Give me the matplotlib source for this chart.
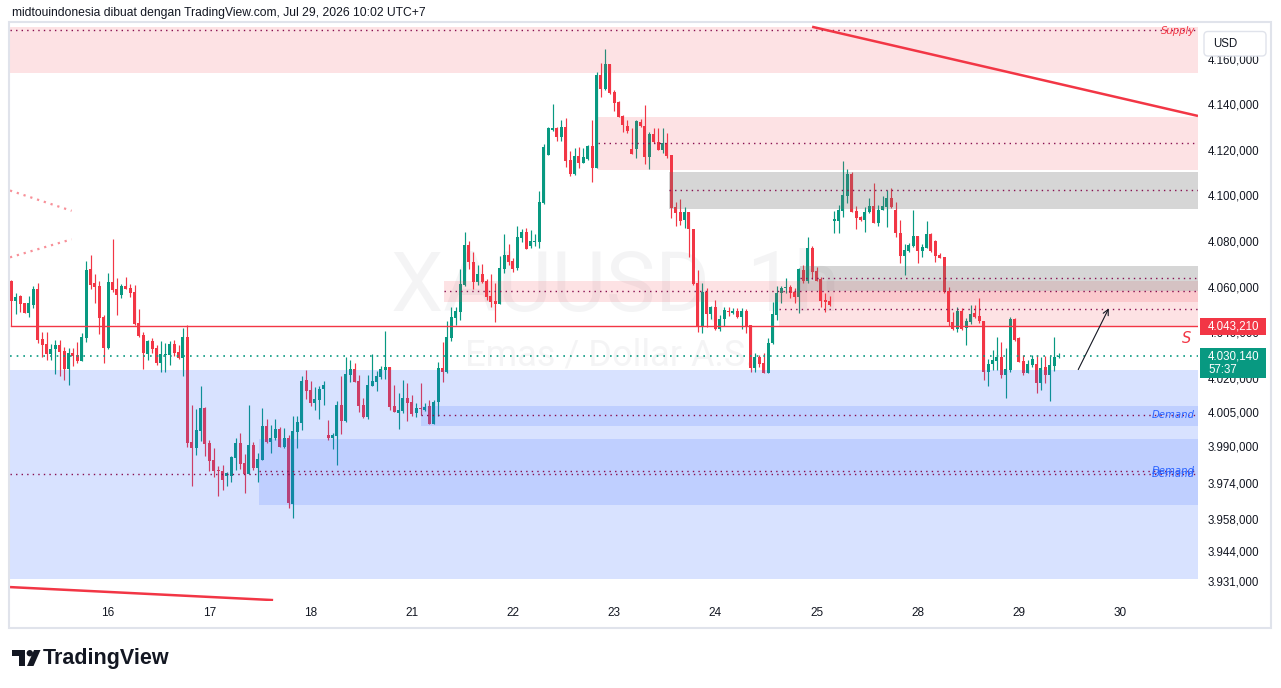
import matplotlib
matplotlib.use("Agg")
import matplotlib.pyplot as plt
import matplotlib.transforms as mtransforms
from matplotlib.patches import Rectangle, FancyBboxPatch, Circle, Polygon
import numpy as np

# ---------------- data ----------------
opens = [4063.1, 4054.5, 4056.4, 4053.3, 4049.2, 4052.6, 4059.6, 4037.7, 4035.5, 4031.3,
         4033.5, 4035.1, 4032.4, 4024.5, 4031.6, 4030.7, 4028.2, 4038.3, 4068.4, 4062.3,
         4060.9, 4047.3, 4033.9, 4062.7, 4059.6, 4057.1, 4060.9, 4060.1, 4058.3, 4044.7,
         4039.5, 4031.3, 4036.8, 4033.8, 4027.3, 4030.7, 4030.8, 4035.5, 4032.0, 4029.5,
         4038.6, 3992.5, 3990.0, 3997.5, 4007.6, 3992.1, 3984.6, 3980.2, 3979.7, 3977.8,
         3977.8, 3985.6, 3992.1, 3983.3, 3978.6, 3991.2, 3981.3, 3984.8, 3999.5, 3992.4,
         3994.1, 3998.2, 3990.5, 3994.1, 3965.5, 3997.0, 4001.0, 4019.7, 4015.3, 4009.8,
         4010.9, 4015.6, 3995.6, 3994.4, 3995.3, 4008.7, 4001.7, 4021.9, 4024.5, 4019.3,
         4008.7, 4003.6, 4017.2, 4019.0, 4021.2, 4024.1, 4025.4, 4008.3, 4005.4, 4006.3,
         4011.7, 4010.1, 4005.4, 4007.4, 4006.5, 4008.3, 4000.4, 4010.0, 4024.8, 4023.4,
         4038.3, 4047.0, 4049.7, 4061.4, 4078.9, 4071.5, 4062.7, 4066.2, 4063.1, 4056.6,
         4054.4, 4053.2, 4068.5, 4074.5, 4071.8, 4068.7, 4082.0, 4084.6, 4078.6, 4080.2,
         4080.3, 4097.2, 4118.4, 4129.3, 4130.3, 4126.4, 4130.5, 4116.2, 4110.0, 4117.9,
         4114.7, 4116.6, 4122.3, 4112.8, 4153.4, 4147.5, 4158.3, 4146.1, 4141.6, 4135.5,
         4131.1, 4121.1, 4121.1, 4133.0, 4131.2, 4117.6, 4127.4, 4124.2, 4120.6, 4123.5,
         4118.4, 4095.7, 4093.4, 4089.8, 4093.5, 4085.9, 4062.1, 4043.4, 4058.4, 4048.6,
         4051.8, 4041.9, 4046.3, 4050.1, 4048.9, 4050.1, 4047.5, 4050.1, 4043.8, 4024.8,
         4029.9, 4027.0, 4022.9, 4035.8, 4048.2, 4057.7, 4059.9, 4060.3, 4058.4, 4056.2,
         4068.0, 4063.3, 4077.5, 4067.5, 4063.9, 4054.8, 4054.4, 4089.6, 4089.6, 4094.0,
         4100.6, 4110.1, 4093.9, 4091.1, 4089.9, 4093.3, 4096.0, 4088.7, 4094.3, 4095.7,
         4099.4, 4094.3, 4084.1, 4074.1, 4076.3, 4078.5, 4082.9, 4076.3, 4077.8, 4083.8,
         4080.7, 4074.5, 4073.8, 4058.8, 4045.3, 4042.1, 4050.0, 4042.4, 4045.0, 4049.0,
         4047.8, 4045.6, 4023.4, 4026.6, 4028.1, 4030.0, 4021.9, 4024.1, 4046.5, 4038.0,
         4028.1, 4022.9, 4026.3, 4026.7, 4018.3, 4025.3, 4021.9, 4026.0, 4029.9]
highs = [4063.6, 4057.9, 4057.0, 4053.5, 4056.6, 4060.9, 4062.1, 4040.6, 4040.6, 4035.5,
         4037.3, 4037.3, 4034.3, 4033.8, 4033.8, 4036.2, 4040.5, 4071.9, 4074.5, 4066.1,
         4063.1, 4048.2, 4066.6, 4081.6, 4064.3, 4062.0, 4064.9, 4062.0, 4061.4, 4050.9,
         4040.6, 4037.4, 4038.0, 4035.1, 4036.8, 4035.9, 4036.8, 4037.3, 4034.9, 4042.5,
         4043.8, 4008.8, 4007.0, 4016.9, 4008.0, 3993.4, 3990.0, 3982.1, 3982.4, 3979.5,
         3986.5, 3994.4, 3996.5, 3987.4, 4008.8, 3992.7, 3987.6, 4007.4, 4002.6, 4000.0,
         4002.6, 3999.2, 3998.5, 3995.6, 4003.9, 4004.1, 4021.5, 4024.1, 4019.3, 4016.8,
         4017.1, 4019.3, 4002.2, 3996.3, 4010.5, 4021.6, 4029.6, 4028.5, 4027.3, 4021.9,
         4012.0, 4021.9, 4031.1, 4023.8, 4026.0, 4041.2, 4025.4, 4017.5, 4014.2, 4019.7,
         4018.2, 4013.1, 4009.5, 4018.4, 4009.5, 4010.9, 4010.9, 4027.5, 4036.2, 4045.7,
         4051.7, 4051.9, 4068.4, 4084.5, 4080.7, 4076.0, 4070.0, 4070.6, 4064.0, 4066.2,
         4062.1, 4074.1, 4083.7, 4079.4, 4073.1, 4087.3, 4086.1, 4086.5, 4085.5, 4083.6,
         4102.6, 4123.0, 4130.8, 4140.7, 4130.8, 4133.7, 4134.4, 4120.3, 4121.6, 4122.0,
         4121.3, 4122.7, 4133.7, 4154.6, 4158.6, 4164.9, 4158.3, 4146.9, 4142.0, 4135.9,
         4133.7, 4130.1, 4133.7, 4134.1, 4140.3, 4128.6, 4130.1, 4130.1, 4130.1, 4127.9,
         4118.4, 4097.6, 4099.0, 4095.4, 4093.5, 4085.9, 4067.9, 4062.1, 4059.9, 4052.3,
         4054.8, 4048.2, 4051.8, 4051.8, 4051.1, 4051.1, 4051.1, 4050.7, 4043.8, 4031.4,
         4030.6, 4031.4, 4038.0, 4054.0, 4060.9, 4060.9, 4064.3, 4061.3, 4059.9, 4068.9,
         4070.2, 4082.3, 4078.5, 4069.4, 4065.0, 4058.0, 4056.6, 4093.8, 4096.5, 4115.8,
         4112.3, 4110.8, 4096.0, 4091.8, 4095.7, 4099.4, 4106.0, 4096.5, 4100.4, 4103.1,
         4103.8, 4097.6, 4089.9, 4079.2, 4079.7, 4094.3, 4082.9, 4079.4, 4089.5, 4084.1,
         4081.1, 4075.3, 4073.8, 4060.7, 4049.4, 4051.6, 4051.2, 4046.8, 4052.6, 4052.6,
         4055.5, 4045.6, 4028.9, 4032.9, 4038.4, 4036.5, 4033.6, 4047.2, 4047.1, 4038.7,
         4030.7, 4028.5, 4030.7, 4030.7, 4030.0, 4030.2, 4030.2, 4038.4, 4031.7]
lows = [4043.2, 4048.5, 4049.7, 4049.0, 4047.5, 4051.4, 4035.9, 4030.0, 4028.6, 4028.6,
        4022.5, 4021.5, 4019.9, 4017.7, 4026.0, 4027.0, 4028.0, 4036.5, 4059.6, 4053.6,
        4040.0, 4027.3, 4033.5, 4058.5, 4048.2, 4055.7, 4059.8, 4056.3, 4043.8, 4038.6,
        4024.7, 4028.5, 4031.7, 4026.2, 4023.4, 4023.4, 4026.2, 4030.4, 4029.1, 4021.6,
        3990.5, 3973.4, 3987.0, 3993.0, 3986.5, 3980.0, 3977.0, 3969.0, 3971.6, 3973.4,
        3975.1, 3980.2, 3980.5, 3970.3, 3978.3, 3980.2, 3975.1, 3984.5, 3992.1, 3987.8,
        3993.3, 3990.2, 3989.7, 3963.7, 3959.3, 3990.0, 3997.8, 4011.2, 4008.4, 4006.5,
        4002.6, 4008.7, 3993.4, 3989.4, 3982.4, 3995.9, 4001.1, 4019.0, 4018.7, 4005.8,
        4002.9, 4002.5, 4017.1, 4014.9, 4020.3, 4020.3, 4006.5, 4005.5, 3998.2, 4005.4,
        4001.7, 4004.1, 4003.6, 4004.4, 4006.3, 4000.3, 4000.3, 4003.9, 4019.0, 4022.6,
        4037.0, 4043.8, 4046.0, 4061.1, 4068.2, 4059.6, 4061.4, 4062.1, 4054.8, 4051.7,
        4045.3, 4052.9, 4066.5, 4070.1, 4067.2, 4068.0, 4080.4, 4077.0, 4077.5, 4078.6,
        4077.4, 4096.9, 4118.4, 4129.0, 4124.5, 4124.5, 4113.2, 4109.2, 4109.6, 4112.8,
        4114.7, 4116.2, 4106.7, 4112.5, 4143.7, 4146.9, 4145.1, 4137.8, 4134.9, 4128.6,
        4128.2, 4118.9, 4116.9, 4130.8, 4114.3, 4112.2, 4123.8, 4120.6, 4119.4, 4116.9,
        4090.6, 4087.4, 4087.7, 4086.2, 4073.5, 4061.3, 4040.9, 4040.4, 4043.1, 4046.3,
        4041.6, 4041.3, 4043.4, 4047.9, 4048.6, 4046.7, 4041.9, 4040.4, 4023.3, 4023.3,
        4025.5, 4022.6, 4022.9, 4035.5, 4046.0, 4053.3, 4057.7, 4055.5, 4053.3, 4049.2,
        4062.4, 4062.4, 4063.9, 4063.3, 4051.9, 4049.7, 4052.3, 4084.3, 4084.1, 4091.0,
        4097.5, 4093.6, 4085.8, 4089.6, 4084.8, 4092.8, 4088.7, 4087.3, 4094.3, 4087.0,
        4095.0, 4082.3, 4070.9, 4065.8, 4076.0, 4078.2, 4071.2, 4073.5, 4077.5, 4076.0,
        4071.6, 4073.1, 4058.0, 4043.4, 4041.7, 4040.9, 4041.7, 4035.1, 4044.3, 4046.8,
        4044.6, 4019.7, 4017.1, 4024.1, 4024.1, 4020.5, 4011.7, 4023.4, 4036.8, 4027.5,
        4021.9, 4022.6, 4025.6, 4014.2, 4015.3, 4018.3, 4010.7, 4023.8, 4029.2]
closes = [4054.5, 4056.1, 4052.9, 4049.2, 4053.5, 4059.6, 4037.4, 4035.2, 4031.3, 4033.3,
          4035.1, 4032.0, 4024.5, 4031.6, 4030.4, 4028.2, 4038.6, 4068.0, 4061.4, 4060.7,
          4047.1, 4033.9, 4062.7, 4059.2, 4057.1, 4060.9, 4059.8, 4058.0, 4044.3, 4039.2,
          4031.6, 4036.8, 4033.5, 4027.3, 4031.1, 4031.1, 4035.5, 4031.7, 4029.5, 4038.6,
          3992.2, 3990.0, 3997.8, 4007.6, 3991.7, 3984.3, 3980.0, 3979.7, 3976.0, 3978.9,
          3985.9, 3992.1, 3983.0, 3978.6, 3991.2, 3981.3, 3985.1, 3999.5, 3992.5, 3994.1,
          3998.2, 3990.5, 3994.1, 3965.6, 3997.3, 4001.4, 4019.3, 4015.0, 4009.8, 4011.4,
          4015.8, 4017.5, 3994.4, 3995.6, 4008.7, 4001.7, 4022.3, 4024.5, 4019.0, 4008.4,
          4003.6, 4017.5, 4019.3, 4021.5, 4024.5, 4025.4, 4008.0, 4005.8, 4006.5, 4012.0,
          4009.8, 4004.8, 4007.4, 4007.1, 4007.9, 4000.3, 4010.1, 4024.8, 4023.4, 4038.6,
          4047.3, 4050.0, 4061.7, 4078.9, 4071.3, 4062.7, 4066.2, 4062.7, 4056.3, 4053.9,
          4053.2, 4068.8, 4074.5, 4071.5, 4068.4, 4082.4, 4084.6, 4077.2, 4080.7, 4080.7,
          4097.6, 4122.0, 4130.3, 4130.3, 4126.4, 4130.5, 4115.9, 4110.0, 4117.9, 4114.7,
          4117.3, 4122.3, 4112.8, 4153.4, 4147.5, 4158.3, 4145.7, 4141.3, 4135.2, 4131.5,
          4129.0, 4118.9, 4133.3, 4131.2, 4117.6, 4127.4, 4124.2, 4120.6, 4123.5, 4117.9,
          4095.0, 4093.1, 4089.4, 4093.4, 4085.8, 4061.8, 4043.4, 4058.4, 4048.6, 4051.8,
          4041.9, 4046.4, 4050.4, 4049.6, 4050.1, 4047.2, 4050.1, 4043.5, 4024.8, 4029.9,
          4026.7, 4022.9, 4036.1, 4048.6, 4057.7, 4059.9, 4060.3, 4057.7, 4056.2, 4068.2,
          4063.3, 4077.5, 4067.2, 4063.3, 4054.5, 4054.1, 4052.6, 4090.2, 4094.3, 4100.9,
          4110.1, 4093.6, 4090.9, 4089.9, 4093.3, 4096.0, 4088.7, 4094.3, 4096.0, 4099.4,
          4095.7, 4084.1, 4074.1, 4076.7, 4078.9, 4082.9, 4076.3, 4077.9, 4083.8, 4076.3,
          4074.1, 4073.4, 4058.5, 4045.0, 4042.1, 4050.0, 4042.1, 4045.6, 4048.7, 4047.2,
          4045.6, 4023.4, 4026.6, 4028.5, 4029.7, 4021.9, 4024.5, 4046.5, 4037.3, 4027.8,
          4022.9, 4026.7, 4028.8, 4018.3, 4025.1, 4021.9, 4026.3, 4030.0, 4030.14]

day_labels = ["16", "17", "18", "21", "22", "23", "24", "25", "28", "29", "30"]
day_bar_index = [22, 45, 68, 91, 114, 137, 160, 183, 206, 229, 252]
price_ticks = [4160, 4140, 4120, 4100, 4080, 4060, 4040, 4020, 4005, 3990, 3974, 3958, 3944, 3931]
last_price = 4030.14
level_price = 4043.21
countdown = "57:37"

# zones: start bar, top price, bottom price, kind
zone_start = [-1.0, 133.3, 149.5, 98.3, 179.2, 174.5, -1.0, 93.1, 56.3]
zone_top = [4174.6, 4134.9, 4110.8, 4063.1, 4069.5, 4058.6, 4024.1, 4008.3, 3993.8]
zone_bottom = [4154.4, 4112.0, 4094.7, 4053.9, 4058.6, 4043.4, 3932.4, 3999.6, 3964.9]
zone_kind = ["pink", "pink", "grey", "pink", "grey", "pink", "blue", "blue", "blue"]

# dotted mid lines: start bar, price
mid_start = [-1.0, 133.3, 149.5, 179.2, 98.3, 174.5, 93.1, 56.3, -1.0]
mid_price = [4173.2, 4123.5, 4102.9, 4064.3, 4058.6, 4050.7, 4004.4, 3979.7, 3978.4]

# trend lines (bar, price) pairs
trend_top = [(182.0, 4174.6), (269.7, 4135.5)]
trend_bottom = [(-0.3, 3928.9), (59.5, 3923.2)]
fan_a = [(-0.3, 4102.8), (13.7, 4093.9)]
fan_b = [(-0.3, 4073.5), (13.7, 4081.4)]
arrow_pts = [(242.2, 4023.2), (249.7, 4052.2)]

# ---------------- style ----------------
GREEN = "#089981"
RED = "#f23645"
TXT = "#131722"
W, Hh = 1281, 688

def fmt(v):
    s = f"{v:,.3f}"
    return s.replace(",", "X").replace(".", ",").replace("X", ".")

fig = plt.figure(figsize=(W / 100, Hh / 100), dpi=100)
fig.patch.set_facecolor("white")

pane_l, pane_r, pane_t, pane_b = 10, 1198, 22, 601
ax = fig.add_axes([pane_l / W, 1 - pane_b / Hh, (pane_r - pane_l) / W, (pane_b - pane_t) / Hh])
ax.set_xlim(-0.3, 269.7)
ax.set_ylim(3922.8, 4176.7)
ax.set_facecolor("white")
for s in ax.spines.values():
    s.set_visible(False)
ax.set_xticks([])
ax.set_yticks([])

# watermark (axes-fraction placement)
ax.text((615 - pane_l) / (pane_r - pane_l), (pane_b - 287) / (pane_b - pane_t), "XAUUSD, 1h",
        transform=ax.transAxes, ha="center", va="center", fontsize=60, family="Roboto",
        color="#787b86", alpha=0.08, zorder=1)
ax.text((610 - pane_l) / (pane_r - pane_l), (pane_b - 356) / (pane_b - pane_t), "Emas / Dollar A.S.",
        transform=ax.transAxes, ha="center", va="center", fontsize=26, family="Roboto",
        color="#787b86", alpha=0.08, zorder=1)

# candles
O = np.array(opens); Hi = np.array(highs); Lo = np.array(lows); C = np.array(closes)
x = np.arange(len(O))
cols = np.where(C >= O, GREEN, RED)
ax.vlines(x, Lo, Hi, colors=cols, lw=0.85, zorder=2)
ax.bar(x, np.maximum(np.abs(C - O), 0.45), bottom=np.minimum(O, C), width=0.68,
       color=cols, linewidth=0, zorder=3)

# zones
XR = 269.7
zstyle = {"pink": ("#f23645", 0.14), "grey": ("#6f6f6f", 0.28), "blue": ("#2962ff", 0.18)}
for i, (s0, t, b, k) in enumerate(zip(zone_start, zone_top, zone_bottom, zone_kind)):
    c, a = zstyle[k]
    if k == "blue" and i > 6:
        a = 0.14
    ax.add_patch(Rectangle((s0, b), XR + 1 - s0, t - b, facecolor=c, alpha=a, lw=0, zorder=4))

for s0, p in zip(mid_start, mid_price):
    ax.plot([max(s0, -0.3), XR], [p, p], color="#880e4f", lw=1.0, ls=(0, (1, 3)), zorder=5)

# horizontal level & last price line
ax.plot([0, XR], [level_price, level_price], color=RED, lw=1.0, zorder=6)
ax.plot([-0.3, XR], [last_price, last_price], color=GREEN, lw=1.2, ls=(0, (1, 3)), zorder=6)

# trend lines
ax.plot(*zip(*trend_top), color=RED, lw=1.8, zorder=6, solid_capstyle="butt")
ax.plot(*zip(*trend_bottom), color=RED, lw=1.8, zorder=6, solid_capstyle="butt")
for f in (fan_a, fan_b):
    ax.plot(*zip(*f), color="#f23645", alpha=0.55, lw=1.6, ls=(0, (1, 2.2)), zorder=6)
ax.annotate("", xy=arrow_pts[1], xytext=arrow_pts[0],
            arrowprops=dict(arrowstyle="->", color=TXT, lw=0.8, mutation_scale=10), zorder=7)

# labels on zones
bl = mtransforms.blended_transform_factory(ax.transAxes, ax.transData)
xr_lab = (1195 - pane_l) / (pane_r - pane_l)
ax.text(xr_lab, mid_price[0] - 0.6, "Supply", transform=bl, ha="right", va="center", fontsize=7.3,
        style="italic", color=RED, zorder=8)
for p in (mid_price[6], mid_price[7], mid_price[8]):
    ax.text(xr_lab, p, "Demand", transform=bl, ha="right", va="center", fontsize=7.3,
            style="italic", color="#2962ff", zorder=8)
ax.text(267.2, 4037.7, "S", ha="center", va="center", fontsize=10.5, style="italic",
        color=RED, zorder=8)

# price axis labels
x_lab = (1208 - pane_l) / (pane_r - pane_l)
for p in price_ticks:
    ax.text(x_lab, p, fmt(p), transform=bl, ha="left", va="center", fontsize=8.3,
            family="Liberation Sans", color=TXT, clip_on=False, zorder=6)

# price boxes
bx0 = (1200 - pane_l) / (pane_r - pane_l)
bw = 66 / (pane_r - pane_l)
unit = 2.28
ax.add_patch(Rectangle((bx0, level_price - 8.6 / unit), bw, 17.3 / unit, transform=bl,
                       facecolor=RED, lw=0, clip_on=False, zorder=10))
ax.text(bx0 + bw / 2, level_price, fmt(level_price), transform=bl, ha="center", va="center",
        fontsize=8.3, family="Liberation Sans", color="white", clip_on=False, zorder=11)
ax.add_patch(Rectangle((bx0, last_price - 22 / unit), bw, 30 / unit, transform=bl,
                       facecolor=GREEN, lw=0, clip_on=False, zorder=10))
ax.text(x_lab, last_price, fmt(last_price), transform=bl, ha="left", va="center",
        fontsize=8.3, family="Liberation Sans", color="white", clip_on=False, zorder=11)
ax.text(x_lab, last_price - 13.5 / unit, countdown, transform=bl, ha="left", va="center",
        fontsize=8.3, family="Liberation Sans", color="white", clip_on=False, zorder=11)

# time axis labels
for xi, lab in zip(day_bar_index, day_labels):
    ax.text(xi, -(613 - pane_b) / (pane_b - pane_t), lab,
            transform=mtransforms.blended_transform_factory(ax.transData, ax.transAxes),
            ha="center", va="center", fontsize=8.5, family="Liberation Sans", color=TXT,
            clip_on=False)

# ---------------- pixel overlay: frame, title, USD, footer ----------------
pax = fig.add_axes([0, 0, 1, 1], zorder=5)
pax.set_xlim(0, W); pax.set_ylim(Hh, 0)
pax.axis("off")
pax.add_patch(Rectangle((8.5, 22), 1262, 606, fill=False, edgecolor="#e0e3eb", lw=1.5))
pax.text(12, 13, "midtouindonesia dibuat dengan TradingView.com, Jul 29, 2026 10:02 UTC+7",
         ha="left", va="center", fontsize=8.7, family="Liberation Sans", color=TXT)
pax.add_patch(FancyBboxPatch((1204, 31.5), 62, 24.5, boxstyle="round,pad=0,rounding_size=4",
                             facecolor="white", edgecolor="#e0e3eb", lw=1.0))
pax.text(1213, 44, "USD", ha="left", va="center", fontsize=8.3, family="Liberation Sans",
         color=TXT)
# TradingView logo
pax.add_patch(Rectangle((12, 650), 13, 5.5, facecolor=TXT, lw=0))
pax.add_patch(Rectangle((18.5, 650), 6.5, 16, facecolor=TXT, lw=0))
pax.add_patch(Circle((29.8, 653.2), 3.2, facecolor=TXT, lw=0))
pax.add_patch(Polygon([(34, 650), (40.5, 650), (33.5, 666), (27, 666)], closed=True,
                      facecolor=TXT, lw=0))
pax.text(43, 658.5, "TradingView", ha="left", va="center", fontsize=15.5, fontweight="bold",
         family="Liberation Sans", color=TXT)

fig.savefig("out.png", dpi=100)
